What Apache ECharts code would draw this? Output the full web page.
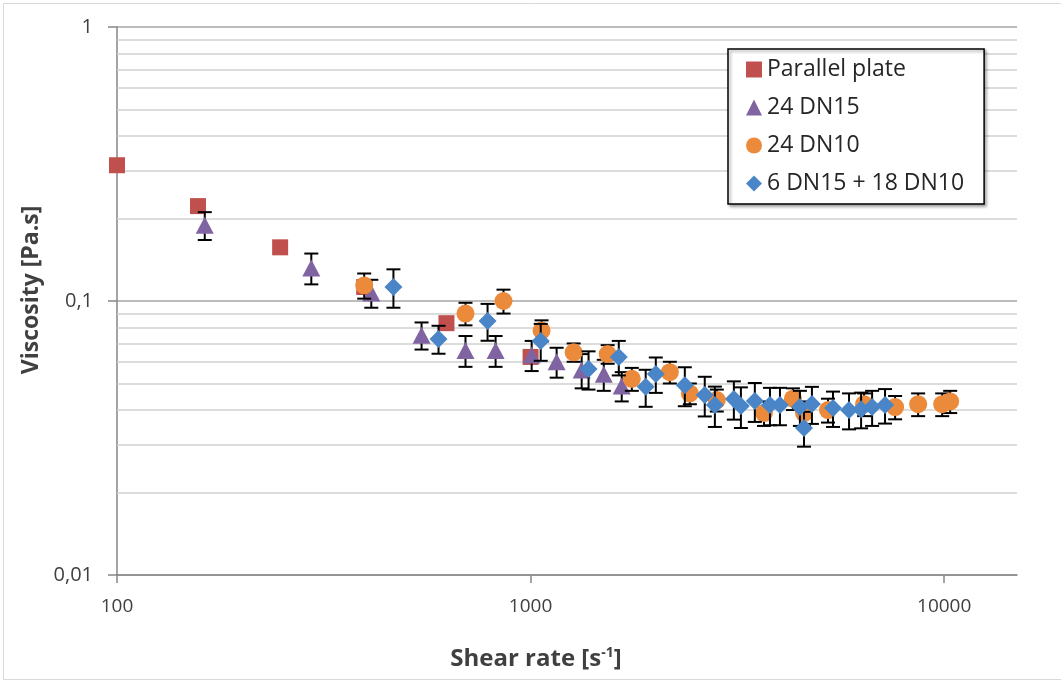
<!DOCTYPE html>
<html>
<head>
<meta charset="utf-8">
<script src="https://cdn.jsdelivr.net/npm/echarts@6/dist/echarts.min.js"></script>
<style>
  html, body { margin: 0; padding: 0; background: #fff; }
  #chart { width: 1061px; height: 680px; }
</style>
</head>
<body>
<div id="chart"></div>
<script>
// ---- data ----
const seriesNames = ['Parallel plate', '24 DN15', '24 DN10', '6 DN15 + 18 DN10'];

const plateX = [100, 157, 248, 396, 626, 1000];
const plateY = [0.313, 0.222, 0.157, 0.1125, 0.083, 0.0625];

const dn15X = [163, 295, 412, 545, 696, 823, 1006, 1156, 1329, 1503, 1661];
const dn15Y = [0.189, 0.132, 0.107, 0.075, 0.066, 0.066, 0.0635, 0.060, 0.056, 0.054, 0.049];
const dn15Err = [0.022, 0.017, 0.0125, 0.0085, 0.0085, 0.0085, 0.008, 0.0075, 0.008, 0.007, 0.006];

const dn10X = [396, 696, 860, 1063, 1271, 1536, 1757, 2171, 2427, 2820, 3667, 4308, 4582, 5237, 6403, 7610, 8651, 9890, 10340];
const dn10Y = [0.114, 0.090, 0.100, 0.078, 0.065, 0.064, 0.052, 0.055, 0.046, 0.0435, 0.039, 0.044, 0.039, 0.040, 0.042, 0.041, 0.042, 0.042, 0.043];
const dn10Err = [0.012, 0.0085, 0.010, 0.007, 0.005, 0.005, 0.005, 0.005, 0.004, 0.004, 0.004, 0.004, 0.004, 0.004, 0.004, 0.004, 0.004, 0.004, 0.004];

const mixX = [466, 599, 787, 1058, 1381, 1634, 1898, 2008, 2360, 2637, 2790, 3101, 3225, 3485, 3791, 4008, 4479, 4582, 4789, 5385, 5888, 6297, 6695, 7195];
const mixY = [0.1125, 0.0727, 0.0846, 0.0715, 0.0565, 0.0625, 0.0486, 0.0542, 0.0493, 0.0454, 0.0417, 0.0439, 0.0414, 0.0432, 0.0417, 0.0417, 0.0410, 0.0344, 0.0421, 0.0407, 0.0400, 0.0403, 0.0410, 0.0417];
const mixErr = [0.018, 0.0085, 0.013, 0.011, 0.009, 0.009, 0.0075, 0.008, 0.008, 0.0075, 0.007, 0.007, 0.007, 0.007, 0.0065, 0.0065, 0.006, 0.005, 0.0065, 0.006, 0.006, 0.006, 0.006, 0.006];

const xTicks = [100, 1000, 10000];
const minorGridY = [0.02, 0.03, 0.04, 0.05, 0.06, 0.07, 0.08, 0.09, 0.2, 0.3, 0.4, 0.5, 0.6, 0.7, 0.8, 0.9];

// ---- helpers ----
const FONT = 'Open Sans';
function pts(xs, ys) { return xs.map((x, i) => [x, ys[i]]); }
function errs(xs, ys, es) { return xs.map((x, i) => [x, ys[i] - es[i], ys[i] + es[i]]); }

function renderErr(params, api) {
  const x = api.value(0);
  const lo = api.coord([x, api.value(1)]);
  const hi = api.coord([x, api.value(2)]);
  const cap = 7;
  const st = { stroke: '#000', lineWidth: 2 };
  return {
    type: 'group',
    children: [
      { type: 'line', shape: { x1: hi[0], y1: hi[1], x2: lo[0], y2: lo[1] }, style: st },
      { type: 'line', shape: { x1: hi[0] - cap, y1: hi[1], x2: hi[0] + cap, y2: hi[1] }, style: st },
      { type: 'line', shape: { x1: lo[0] - cap, y1: lo[1], x2: lo[0] + cap, y2: lo[1] }, style: st }
    ]
  };
}
function errSeries(data, z) {
  return {
    type: 'custom', renderItem: renderErr, data: data, z: z, silent: true,
    encode: { x: 0, y: [1, 2] }
  };
}
function fmtNum(v) {
  const n = Number(Number(v).toPrecision(6));
  return String(n).replace('.', ',');
}

const chart = echarts.init(document.getElementById('chart'), null, { renderer: 'canvas' });
chart.setOption({
  animation: false,
  backgroundColor: '#fff',
  graphic: [{
    type: 'rect', left: 1, top: 1, shape: { width: 1058, height: 676 },
    style: { fill: 'none', stroke: '#d9d9d9', lineWidth: 1 }, silent: true, z: -10
  }],
  grid: { left: 117, right: 44, top: 27, bottom: 105, containLabel: false },
  legend: {
    data: seriesNames,
    orient: 'vertical',
    left: 728, top: 49,
    z: 50,
    backgroundColor: '#fff',
    borderColor: '#000', borderWidth: 1.5,
    shadowColor: 'rgba(0,0,0,0.35)', shadowBlur: 3, shadowOffsetX: 2, shadowOffsetY: 2,
    padding: [9, 20, 9, 18],
    itemWidth: 16, itemHeight: 16, itemGap: 15,
    textStyle: { fontFamily: FONT, fontSize: 23, color: '#262626', lineHeight: 21 }
  },
  xAxis: {
    type: 'log', logBase: 10, min: 100, max: 15000,
    name: 'Shear rate [s{sup|-1}]',
    nameLocation: 'middle', nameGap: 71,
    nameTextStyle: {
      fontFamily: FONT, fontSize: 24, fontWeight: 'bold', color: '#404040',
      padding: [0, 62, 0, 0],
      rich: { sup: { fontFamily: FONT, fontSize: 14, fontWeight: 'bold', color: '#404040', verticalAlign: 'top', lineHeight: 26 } }
    },
    axisLine: { show: true, lineStyle: { color: '#868686', width: 1.5 } },
    axisTick: { show: true, inside: false, length: 8, lineStyle: { color: '#868686', width: 1.5 }, customValues: xTicks },
    axisLabel: {
      fontFamily: FONT, fontSize: 19, color: '#404040', margin: 22, customValues: xTicks,
      formatter: v => fmtNum(v)
    },
    splitLine: { show: false },
    minorTick: { show: false }, minorSplitLine: { show: false }
  },
  yAxis: {
    type: 'log', logBase: 10, min: 0.01, max: 1,
    name: 'Viscosity [Pa.s]',
    nameLocation: 'middle', nameGap: 70, nameRotate: 90,
    nameTextStyle: { fontFamily: FONT, fontSize: 23, fontWeight: 'bold', color: '#404040', padding: [0, 0, 0, 22] },
    axisLine: { show: true, lineStyle: { color: '#868686', width: 1.5 } },
    axisTick: { show: true, inside: false, length: 9, lineStyle: { color: '#868686', width: 1.5 } },
    axisLabel: { fontFamily: FONT, fontSize: 20, color: '#404040', margin: 24, formatter: v => fmtNum(v) },
    splitLine: { show: true, lineStyle: { color: '#a6a6a6', width: 1.5 } },
    minorTick: { show: false }, minorSplitLine: { show: false }
  },
  series: [
    {
      type: 'scatter', name: '_grid', data: [], z: 1, silent: true,
      markLine: {
        silent: true, symbol: 'none', animation: false, z: 1,
        label: { show: false },
        lineStyle: { type: 'solid', color: '#d0d0d0', width: 1.5 },
        data: minorGridY.map(v => ({ yAxis: v }))
      }
    },
    {
      type: 'scatter', name: seriesNames[0], data: pts(plateX, plateY), z: 2,
      symbol: 'rect', symbolSize: 16, itemStyle: { color: '#C0504D', opacity: 1 }
    },
    errSeries(errs(dn15X, dn15Y, dn15Err), 3),
    {
      type: 'scatter', name: seriesNames[1], data: pts(dn15X, dn15Y), z: 4,
      symbol: 'triangle', symbolSize: [18, 17], itemStyle: { color: '#8064A2', opacity: 1 }
    },
    errSeries(errs(dn10X, dn10Y, dn10Err), 5),
    {
      type: 'scatter', name: seriesNames[2], data: pts(dn10X, dn10Y), z: 6,
      symbol: 'circle', symbolSize: 18, itemStyle: { color: '#EC8A3B', opacity: 1 }
    },
    errSeries(errs(mixX, mixY, mixErr), 7),
    {
      type: 'scatter', name: seriesNames[3], data: pts(mixX, mixY), z: 8,
      symbol: 'diamond', symbolSize: [18, 18], itemStyle: { color: '#4A86C7', opacity: 1 }
    }
  ]
});
</script>
</body>
</html>
